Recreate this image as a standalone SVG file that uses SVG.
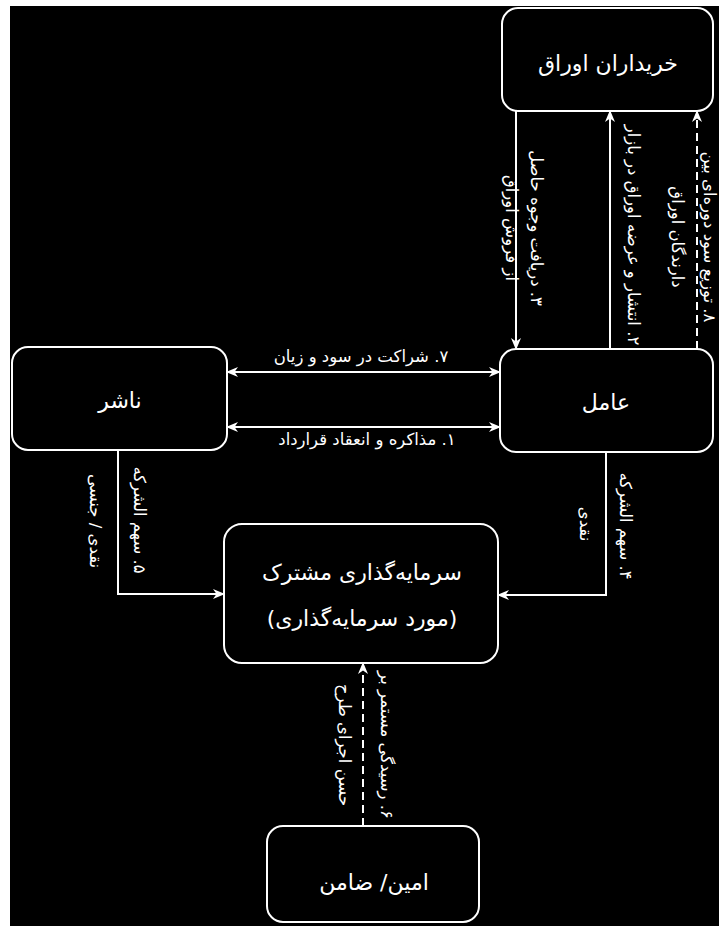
<svg xmlns="http://www.w3.org/2000/svg" width="719" height="926" viewBox="0 0 719 926">
<defs>
<marker id="ah" viewBox="0 0 12 10" refX="11" refY="5" markerWidth="12" markerHeight="10" markerUnits="userSpaceOnUse" orient="auto-start-reverse">
<path d="M0,0 L12,5 L0,10 L3.5,5 z" fill="#fff"/>
</marker>
<style>
.box{fill:#000;stroke:#fff;stroke-width:2}
.t{font-family:'DejaVu Sans',sans-serif;fill:#fff;text-anchor:middle;direction:rtl;unicode-bidi:embed}
.n{font-size:22px}
.l{font-size:16.5px;dominant-baseline:central}
.c{fill:none;stroke:#fff;stroke-width:2}
.d{stroke-dasharray:8 5}
</style>
</defs>
<rect x="0" y="0" width="719" height="926" fill="#fff"/>
<rect x="10" y="6" width="709" height="920" fill="#000"/>
<g id="connectors">
<line class="c" x1="516" y1="111" x2="516" y2="349" marker-end="url(#ah)"/>
<line class="c" x1="610" y1="349" x2="610" y2="111" marker-end="url(#ah)"/>
<line class="c d" x1="697" y1="349" x2="697" y2="111" marker-end="url(#ah)"/>
<line class="c" x1="227" y1="372" x2="500" y2="372" marker-start="url(#ah)" marker-end="url(#ah)"/>
<line class="c" x1="227" y1="427" x2="500" y2="427" marker-start="url(#ah)" marker-end="url(#ah)"/>
<polyline class="c" points="118,450 118,594 224,594" marker-end="url(#ah)"/>
<polyline class="c" points="606,452 606,595 498,595" marker-end="url(#ah)"/>
<line class="c d" x1="363" y1="826" x2="363" y2="663" marker-end="url(#ah)"/>
<text class="t l" x="361" y="356">۷. شراکت در سود و زیان</text>
<text class="t l" x="367" y="439">۱. مذاکره و انعقاد قرارداد</text>
<text class="t l" transform="translate(536,228) rotate(90)">۳. دریافت وجوه حاصل</text>
<text class="t l" transform="translate(511,228) rotate(90)">از فروش اوراق</text>
<text class="t l" transform="translate(633,235) rotate(90)">۲. انتشار و عرضه اوراق در بازار</text>
<text class="t l" transform="translate(709,237) rotate(90)">۸. توزیع سود دوره&#8204;ای بین</text>
<text class="t l" transform="translate(677,237) rotate(90)">دارندگان اوراق</text>
<text class="t l" transform="translate(139,520) rotate(90)">۵. سهم الشرکه</text>
<text class="t l" transform="translate(95,521) rotate(90)">نقدی / جنسی</text>
<text class="t l" transform="translate(625,526) rotate(90)">۴. سهم الشرکه</text>
<text class="t l" transform="translate(585,524) rotate(90)">نقدی</text>
<text class="t l" transform="translate(386,745) rotate(90)">۶. رسیدگی مستمر بر</text>
<text class="t l" transform="translate(344,745) rotate(90)">حسن اجرای طرح</text>
</g>
<g id="kharidaran">
<rect class="box" x="502" y="8" width="211" height="103" rx="16"/>
<text class="t n" x="608" y="71">خریداران اوراق</text>
</g>
<g id="amel">
<rect class="box" x="500" y="349" width="213" height="103" rx="16"/>
<text class="t n" x="606" y="410">عامل</text>
</g>
<g id="nasher">
<rect class="box" x="12" y="347" width="215" height="103" rx="16"/>
<text class="t n" x="120" y="408">ناشر</text>
</g>
<g id="sarmayegozari">
<rect class="box" x="224" y="524" width="274" height="139" rx="18"/>
<text class="t n" x="362" y="580">سرمایه&#8204;گذاری مشترک</text>
<text class="t n" x="362" y="626">(مورد سرمایه&#8204;گذاری)</text>
</g>
<g id="amin">
<rect class="box" x="267" y="826" width="212" height="96" rx="16"/>
<text class="t n" x="374" y="890">امین/ ضامن</text>
</g>
</svg>
